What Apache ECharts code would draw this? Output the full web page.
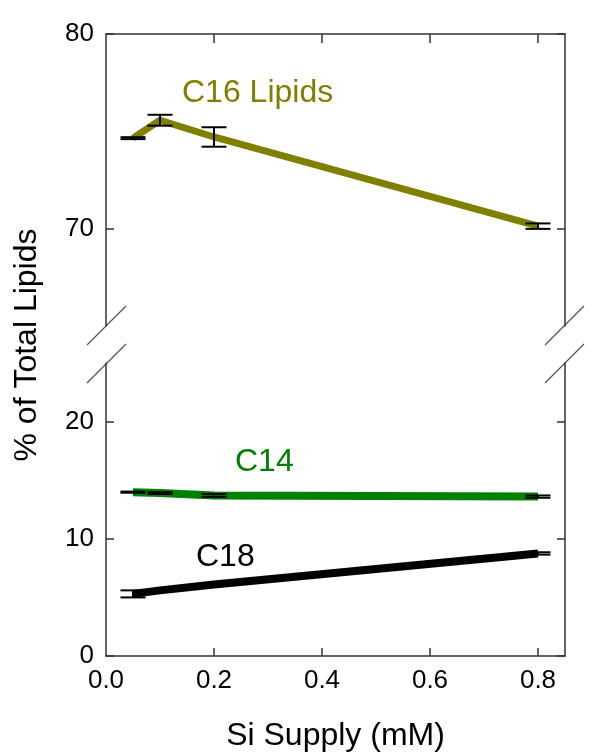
<!DOCTYPE html>
<html>
<head>
<meta charset="utf-8">
<script src="https://cdn.jsdelivr.net/npm/echarts@6/dist/echarts.min.js"></script>
<style>
  html, body { margin: 0; padding: 0; background: #fff; }
  #chart { width: 594px; height: 756px; }
</style>
</head>
<body>
<div id="chart"></div>
<script>
'use strict';

// Si supply (mM) for every sample
var siSupply = [0.05, 0.1, 0.2, 0.8];

// % of total lipids, with error (+/-)
var c16 = [74.65, 75.57, 74.71, 70.13];
var c16Err = [0.05, 0.28, 0.5, 0.14];
var c14 = [13.98, 13.9, 13.7, 13.6];
var c14Err = [0.05, 0.08, 0.12, 0.1];
var c18 = [5.3, 5.6, 6.1, 8.75];
var c18Err = [0.3, 0.05, 0.05, 0.1];

// axis ticks
var xTickLabels = [0, 0.2, 0.4, 0.6, 0.8];
var xTicks = [0.2, 0.4, 0.6, 0.8];
var yTopTicks = [70, 80];
var yBottomTicks = [0, 10, 20];

var AXIS_COLOR = '#333';
var FONT = 'Liberation Sans, Arial, sans-serif';

function pairs(xs, ys) {
    var out = [];
    for (var i = 0; i < xs.length; i++) {
        out.push([xs[i], ys[i]]);
    }
    return out;
}

function triples(xs, ys, es) {
    var out = [];
    for (var i = 0; i < xs.length; i++) {
        out.push([xs[i], ys[i], es[i]]);
    }
    return out;
}

function renderErrorBar(params, api) {
    var x = api.value(0);
    var y = api.value(1);
    var e = api.value(2);
    var hi = api.coord([x, y + e]);
    var lo = api.coord([x, y - e]);
    var w = 12.5;
    var style = { stroke: '#000', lineWidth: 2 };
    return {
        type: 'group',
        children: [
            { type: 'line', shape: { x1: hi[0], y1: hi[1], x2: lo[0], y2: lo[1] }, style: style },
            { type: 'line', shape: { x1: hi[0] - w, y1: hi[1], x2: hi[0] + w, y2: hi[1] }, style: style },
            { type: 'line', shape: { x1: lo[0] - w, y1: lo[1], x2: lo[0] + w, y2: lo[1] }, style: style }
        ]
    };
}

function yAxisOf(grid, pos, min, max, ticks, showLabels) {
    return {
        type: 'value',
        gridIndex: grid,
        position: pos,
        min: min,
        max: max,
        splitLine: { show: false },
        axisLine: { show: true, onZero: false, lineStyle: { color: AXIS_COLOR, width: 1.5 } },
        axisTick: { show: true, inside: true, length: 8, customValues: ticks,
            lineStyle: { color: AXIS_COLOR, width: 1.5 } },
        axisLabel: { show: showLabels, customValues: ticks, margin: 12,
            color: '#000', fontSize: 26, fontFamily: FONT }
    };
}

var breakStyle = { stroke: '#555', lineWidth: 1.2 };

var myChart = echarts.init(document.getElementById('chart'));

var option = {
    backgroundColor: '#fff',
    animation: false,
    grid: [
        { left: 106, right: 29, top: 34, height: 292 },
        { left: 106, right: 29, top: 363, bottom: 100 }
    ],
    xAxis: [
        {
            type: 'value',
            gridIndex: 0,
            position: 'top',
            min: 0,
            max: 0.85,
            splitLine: { show: false },
            axisLine: { show: true, onZero: false, lineStyle: { color: AXIS_COLOR, width: 1.5 } },
            axisTick: { show: true, inside: true, length: 9, customValues: xTicks,
                lineStyle: { color: AXIS_COLOR, width: 1.5 } },
            axisLabel: { show: false }
        },
        {
            type: 'value',
            gridIndex: 1,
            position: 'bottom',
            min: 0,
            max: 0.85,
            name: 'Si Supply (mM)',
            nameLocation: 'middle',
            nameGap: 64,
            nameTextStyle: { color: '#000', fontSize: 32, fontFamily: FONT },
            splitLine: { show: false },
            axisLine: { show: true, onZero: false, lineStyle: { color: AXIS_COLOR, width: 1.5 } },
            axisTick: { show: true, inside: true, length: 8, customValues: xTicks,
                lineStyle: { color: AXIS_COLOR, width: 1.5 } },
            axisLabel: {
                customValues: xTickLabels,
                margin: 12,
                color: '#000',
                fontSize: 26,
                fontFamily: FONT,
                formatter: function (v) { return v.toFixed(1); }
            }
        }
    ],
    yAxis: [
        yAxisOf(0, 'left', 65, 80, yTopTicks, true),
        yAxisOf(0, 'right', 65, 80, yTopTicks, false),
        yAxisOf(1, 'left', 0, 25, yBottomTicks, true),
        yAxisOf(1, 'right', 0, 25, yBottomTicks, false)
    ],
    series: [
        {
            name: 'C16 Lipids',
            type: 'line',
            xAxisIndex: 0,
            yAxisIndex: 0,
            symbol: 'none',
            lineStyle: { color: '#808000', width: 7 },
            data: pairs(siSupply, c16),
            z: 2
        },
        {
            name: 'C14',
            type: 'line',
            xAxisIndex: 1,
            yAxisIndex: 2,
            symbol: 'none',
            lineStyle: { color: '#008000', width: 8 },
            data: pairs(siSupply, c14),
            z: 2
        },
        {
            name: 'C18',
            type: 'line',
            xAxisIndex: 1,
            yAxisIndex: 2,
            symbol: 'none',
            lineStyle: { color: '#000', width: 8 },
            data: pairs(siSupply, c18),
            z: 2
        },
        {
            type: 'custom',
            xAxisIndex: 0,
            yAxisIndex: 0,
            renderItem: renderErrorBar,
            encode: { x: 0, y: 1 },
            data: triples(siSupply, c16, c16Err),
            z: 3
        },
        {
            type: 'custom',
            xAxisIndex: 1,
            yAxisIndex: 2,
            renderItem: renderErrorBar,
            encode: { x: 0, y: 1 },
            data: triples(siSupply, c14, c14Err),
            z: 3
        },
        {
            type: 'custom',
            xAxisIndex: 1,
            yAxisIndex: 2,
            renderItem: renderErrorBar,
            encode: { x: 0, y: 1 },
            data: triples(siSupply, c18, c18Err),
            z: 3
        }
    ],
    graphic: [
        { type: 'text', x: 182, y: 93,
            style: { text: 'C16 Lipids', fill: '#808000', font: '32px ' + FONT, verticalAlign: 'middle' } },
        { type: 'text', x: 235, y: 462,
            style: { text: 'C14', fill: '#008000', font: '32px ' + FONT, verticalAlign: 'middle' } },
        { type: 'text', x: 196, y: 557,
            style: { text: 'C18', fill: '#000', font: '32px ' + FONT, verticalAlign: 'middle' } },
        { type: 'text', x: 27, y: 345, rotation: Math.PI / 2,
            style: { text: '% of Total Lipids', fill: '#000', font: '32px ' + FONT,
                align: 'center', verticalAlign: 'middle' } },
        // axis break marks
        { type: 'line', shape: { x1: 87, y1: 345, x2: 126, y2: 306 }, style: breakStyle },
        { type: 'line', shape: { x1: 87, y1: 383, x2: 126, y2: 344 }, style: breakStyle },
        { type: 'line', shape: { x1: 545, y1: 345, x2: 584, y2: 306 }, style: breakStyle },
        { type: 'line', shape: { x1: 545, y1: 383, x2: 584, y2: 344 }, style: breakStyle }
    ]
};

myChart.setOption(option);
</script>
</body>
</html>
